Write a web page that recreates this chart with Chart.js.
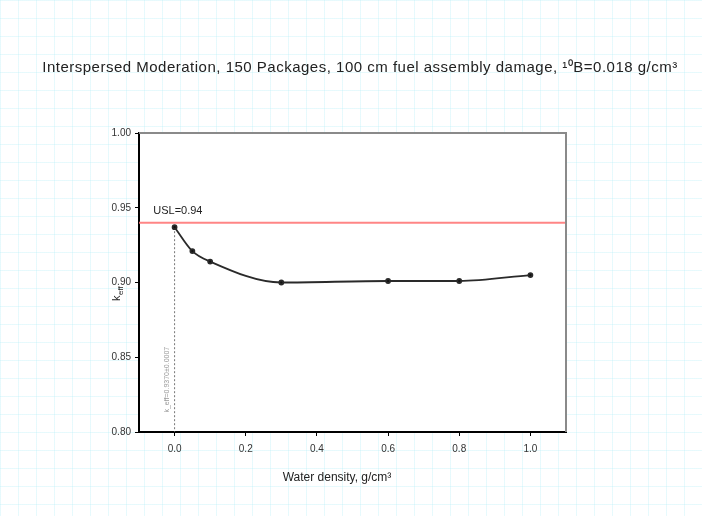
<!DOCTYPE html>
<html>
<head>
<meta charset="utf-8">
<script src="https://cdn.jsdelivr.net/npm/chart.js@4.4.0/dist/chart.umd.min.js"></script>
<style>
  html, body { margin: 0; padding: 0; }
  body {
    width: 702px; height: 516px; overflow: hidden;
    background-color: #ffffff;
    background-image:
      linear-gradient(to right, rgba(185, 240, 248, 0.35) 1px, transparent 1px),
      linear-gradient(to bottom, rgba(185, 240, 248, 0.35) 1px, transparent 1px);
    background-size: 18px 18px;
  }
  #wrap { position: relative; width: 702px; height: 516px; }
</style>
</head>
<body>
<div id="wrap"><canvas id="chart" width="702" height="516"></canvas></div>
<script>
// water density (g/cm3) and k_eff
const density = [0.0, 0.05, 0.1, 0.3, 0.6, 0.8, 1.0];
const keff = [0.937, 0.921, 0.914, 0.900, 0.901, 0.901, 0.905];
const usl = 0.94;
const xTicks = [0.0, 0.2, 0.4, 0.6, 0.8, 1.0];
const yTicks = [0.80, 0.85, 0.90, 0.95, 1.00];

const titleText = 'Interspersed Moderation, 150 Packages, 100 cm fuel assembly damage, ¹⁰B=0.018 g/cm³';
const fontFam = '"Liberation Sans", Arial, sans-serif';

const decor = {
  id: 'decor',
  beforeDraw(chart) {
    const { ctx, chartArea: a } = chart;
    ctx.save();
    ctx.fillStyle = '#ffffff';
    ctx.fillRect(a.left, a.top, a.right - a.left, a.bottom - a.top);
    ctx.restore();
  },
  afterDraw(chart) {
    const { ctx, chartArea: a, scales } = chart;
    ctx.save();
    // top and right frame
    ctx.strokeStyle = '#8a8a8a';
    ctx.lineWidth = 2;
    ctx.beginPath();
    ctx.moveTo(a.left, a.top);
    ctx.lineTo(a.right, a.top);
    ctx.lineTo(a.right, a.bottom);
    ctx.stroke();

    ctx.fillStyle = '#222';
    ctx.textAlign = 'center';
    ctx.textBaseline = 'middle';
    ctx.font = '15px ' + fontFam;
    ctx.letterSpacing = '0.5px';
    ctx.fillText(titleText, 360, 68);
    ctx.letterSpacing = '0px';

    // x title
    ctx.font = '12px ' + fontFam;
    ctx.fillText('Water density, g/cm³', 337, 478);

    // y title k_eff
    ctx.translate(117, 294);
    ctx.rotate(-Math.PI / 2);
    ctx.textAlign = 'left';
    ctx.font = '11px ' + fontFam;
    ctx.fillText('k', -7, 0);
    ctx.font = '8px ' + fontFam;
    ctx.fillText('eff', -1, 4);
    ctx.setTransform(1, 0, 0, 1, 0, 0);

    // USL label
    ctx.font = '11px ' + fontFam;
    ctx.fillStyle = '#222';
    ctx.textAlign = 'left';
    const xl = scales.x.getPixelForValue(-0.06);
    const yl = scales.y.getPixelForValue(usl);
    ctx.fillText('USL=0.94', xl, yl - 12);

    // rotated note along the dashed line
    const xd = scales.x.getPixelForValue(0);
    ctx.translate(xd - 8, scales.y.getPixelForValue(0.835));
    ctx.rotate(-Math.PI / 2);
    ctx.font = '7px ' + fontFam;
    ctx.fillStyle = '#999';
    ctx.textAlign = 'center';
    ctx.fillText('k_eff=0.9370±0.0007', 0, 0);
    ctx.restore();
  }
};

new Chart(document.getElementById('chart'), {
  type: 'scatter',
  data: {
    datasets: [
      {
        label: 'k_eff',
        data: density.map((d, i) => ({ x: d, y: keff[i] })),
        showLine: true,
        borderColor: '#2a2a2a',
        borderWidth: 1.8,
        backgroundColor: '#111',
        pointRadius: 2,
        cubicInterpolationMode: 'monotone'
      },
      {
        label: 'USL',
        data: [{ x: -0.1, y: usl }, { x: 1.1, y: usl }],
        showLine: true,
        borderColor: 'rgba(255, 120, 120, 0.9)',
        borderWidth: 2,
        pointRadius: 0
      },
      {
        label: 'ref',
        data: [{ x: 0, y: keff[0] }, { x: 0, y: 0.80 }],
        showLine: true,
        borderColor: '#777',
        borderWidth: 1,
        borderDash: [2, 2],
        pointRadius: 0
      }
    ]
  },
  options: {
    responsive: false,
    animation: false,
    layout: { padding: { left: 0, top: 133, right: 136, bottom: 0 } },
    plugins: { legend: { display: false }, tooltip: { enabled: false } },
    scales: {
      x: {
        type: 'linear',
        min: -0.1,
        max: 1.1,
        afterBuildTicks: s => { s.ticks = xTicks.map(v => ({ value: v })); },
        afterFit: s => { s.height = 84; },
        grid: { drawOnChartArea: false, drawTicks: true, tickLength: 4, color: '#000' },
        border: { color: '#000', width: 2 },
        ticks: {
          color: '#333',
          padding: 7,
          font: { size: 10, family: fontFam },
          callback: v => v.toFixed(1)
        }
      },
      y: {
        type: 'linear',
        min: 0.80,
        max: 1.00,
        afterBuildTicks: s => { s.ticks = yTicks.map(v => ({ value: v })); },
        afterFit: s => { s.width = 139; },
        grid: { drawOnChartArea: false, drawTicks: true, tickLength: 4, color: '#000' },
        border: { color: '#000', width: 2 },
        ticks: {
          color: '#333',
          padding: 4,
          font: { size: 10, family: fontFam },
          callback: v => v.toFixed(2)
        }
      }
    }
  },
  plugins: [decor]
});
</script>
</body>
</html>
